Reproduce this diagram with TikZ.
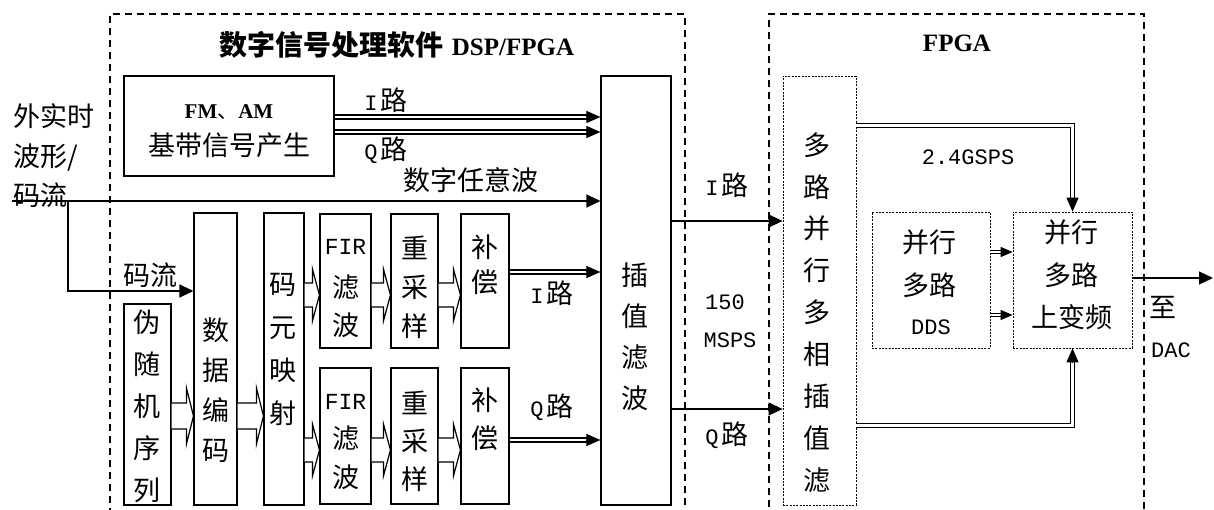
\documentclass[tikz,border=0pt]{standalone}
\usepackage{fontspec}
\setmainfont{Noto Sans CJK SC}
\newfontfamily\mono{Liberation Mono}
\newfontfamily\serifb{Liberation Serif}
\usetikzlibrary{arrows.meta,calc}
\tikzset{
  blk/.style={draw, line width=1.1pt, inner sep=0pt},
  fdash/.style={draw, line width=0.8pt, dash pattern=on 2pt off 1.3pt, inner sep=0pt},
  outerbox/.style={draw, line width=1.1pt, dash pattern=on 7pt off 5pt, inner sep=0pt},
  vt/.style={align=center, inner sep=0pt, font=\fontsize{27}{42}\selectfont},
  lbl/.style={inner sep=0pt, font=\fontsize{27}{32}\selectfont},
  mlbl/.style={inner sep=0pt, font=\fontsize{22}{26}\selectfont\mono},
  arr/.style={line width=1.1pt, -{Triangle[length=14pt,width=13pt]}},
  tip/.style={line width=1pt, -{Triangle[length=14pt,width=12pt]}},
  smalltip/.style={line width=1pt, -{Triangle[length=12pt,width=10pt]}},
  dbl/.style={draw, line width=2.2pt, double=white, double distance=1.6pt},
  fdbl/.style={draw, line width=0.9pt, double=white, double distance=3pt},
  sdbl/.style={draw, line width=1.3pt, double=white, double distance=1.5pt},
  hol/.style={draw, line width=1.2pt, fill=white, line join=miter},
}
\newcommand\hollow[4]{%
  \path (#1.east |- 0,#3) coordinate (hs) (#2.west |- 0,#3) coordinate (he);
  \draw[hol] ($(hs)+(0,-#4)$) -- ($(he)+(-7,-#4)$) -- ($(he)+(-7,-2*#4-2)$) -- (he)
    -- ($(he)+(-7,2*#4+2)$) -- ($(he)+(-7,#4)$) -- ($(hs)+(0,#4)$);}
\newcommand\dblarrow[3]{%
  \path (#1.east |- 0,#3) coordinate (ds) (#2.west |- 0,#3) coordinate (de2);
  \draw[dbl] (ds) -- ($(de2)+(-13,0)$);
  \draw[tip] ($(de2)+(-14,0)$) -- (de2);}
\begin{document}
\begin{tikzpicture}[x=1pt,y=-1pt]
\useasboundingbox (0,0) rectangle (1214,510);
% outer dashed regions
\node[outerbox, minimum width=575pt, minimum height=516pt] (dsp) at (397.5,272) {};
\node[outerbox, minimum width=375pt, minimum height=516pt] (fpga) at (956.5,272) {};
\node[inner sep=0pt, font=\fontsize{28}{30}\selectfont\bfseries] (tdsp) at (397,45)
  {数字信号处理软件\hspace{8pt}{\serifb\fontsize{25}{27}\selectfont\bfseries DSP/FPGA}};
\node[inner sep=0pt, font=\fontsize{25}{27}\selectfont\serifb\bfseries] (tfpga) at (957,43) {FPGA};

% boxes
\node[blk, minimum width=210pt, minimum height=100pt] (fm) at (229,126) {};
\node[inner sep=0pt, font=\fontsize{21}{24}\selectfont] (tfm1) at (229,112) {{\serifb\bfseries FM}、{\serifb\bfseries AM}};
\node[lbl] (tfm2) at (229,145) {基带信号产生};

\node[blk, minimum width=47pt, minimum height=201pt] (pn) at (147.5,404.5) {};
\node[vt] (tpn) at (147,406) {伪\\随\\机\\序\\列};
\node[blk, minimum width=43pt, minimum height=292pt] (de) at (215.5,359) {};
\node[vt, font=\fontsize{27}{40}\selectfont] (tde) at (215.5,390) {数\\据\\编\\码};
\node[blk, minimum width=40pt, minimum height=292pt] (cm) at (284,359) {};
\node[vt, font=\fontsize{27}{43}\selectfont] (tcm) at (283,349.5) {码\\元\\映\\射};

\node[blk, minimum width=51pt, minimum height=134pt] (fir1) at (345.5,281) {};
\node[blk, minimum width=47pt, minimum height=134pt] (rs1) at (414.5,281) {};
\node[blk, minimum width=48pt, minimum height=134pt] (cp1) at (485,281) {};
\node[blk, minimum width=51pt, minimum height=136pt] (fir2) at (345.5,436) {};
\node[blk, minimum width=47pt, minimum height=136pt] (rs2) at (414.5,436) {};
\node[blk, minimum width=48pt, minimum height=136pt] (cp2) at (485,436) {};

\node[mlbl, font=\fontsize{23}{26}\selectfont\mono] (tfir1a) at (345.5,247) {FIR};
\node[vt, font=\fontsize{27}{38}\selectfont] (tfir1b) at (345.5,306.5) {滤\\波};
\node[vt, font=\fontsize{27}{39}\selectfont] (trs1) at (414.5,287) {重\\采\\样};
\node[vt, font=\fontsize{27}{35}\selectfont] (tcp1) at (485,264.5) {补\\偿};
\node[mlbl, font=\fontsize{23}{26}\selectfont\mono] (tfir2a) at (345.5,402) {FIR};
\node[vt, font=\fontsize{27}{39}\selectfont] (tfir2b) at (345.5,457.5) {滤\\波};
\node[vt, font=\fontsize{27}{38}\selectfont] (trs2) at (414.5,441) {重\\采\\样};
\node[vt, font=\fontsize{27}{38}\selectfont] (tcp2) at (485,419) {补\\偿};

\node[blk, minimum width=70pt, minimum height=429pt] (ip) at (636,290.5) {};
\node[vt, font=\fontsize{27}{41}\selectfont] (tip) at (635,337) {插\\值\\滤\\波};

\node[fdash, minimum width=73pt, minimum height=429pt] (mp) at (819.5,290.5) {};
\node[vt, font=\fontsize{27}{41.9}\selectfont] (tmp) at (817,312.5) {多\\路\\并\\行\\多\\相\\插\\值\\滤};

\node[fdash, minimum width=118pt, minimum height=136pt] (dds) at (931,280) {};
\node[lbl] (tdds1) at (929,242) {并行};
\node[lbl] (tdds2) at (929,285) {多路};
\node[mlbl] (tdds3) at (931,327) {DDS};
\node[fdash, minimum width=119pt, minimum height=136pt] (uc) at (1072.5,280) {};
\node[lbl] (tuc1) at (1071,232) {并行};
\node[lbl] (tuc2) at (1071,275) {多路};
\node[lbl] (tuc3) at (1072,317) {上变频};

% labels
\node[lbl, anchor=west] (src1) at (13,116) {外实时};
\node[lbl, anchor=west] (src2) at (13,158) {波形/};
\node[lbl, anchor=west] (src3) at (13,195) {码流};
\node[lbl] (lcl) at (150,275) {码流};
\node[lbl] (larb) at (471,180) {数字任意波};
\node[lbl] (lI1) at (386,100) {{\mono\fontsize{22}{26}\selectfont I}\hspace{3pt}路};
\node[lbl] (lQ1) at (386,150) {{\mono\fontsize{22}{26}\selectfont Q}\hspace{3pt}路};
\node[lbl] (lI2) at (552,293) {{\mono\fontsize{22}{26}\selectfont I}\hspace{3pt}路};
\node[lbl] (lQ2) at (552,407) {{\mono\fontsize{22}{26}\selectfont Q}\hspace{3pt}路};
\node[lbl] (lI3) at (727,185) {{\mono\fontsize{22}{26}\selectfont I}\hspace{3pt}路};
\node[lbl] (lQ3) at (727,435) {{\mono\fontsize{22}{26}\selectfont Q}\hspace{3pt}路};
\node[mlbl] (l150) at (725,302) {150};
\node[mlbl] (lmsps) at (730,340) {MSPS};
\node[mlbl] (lgsps) at (968,157) {2.4GSPS};
\node[lbl] (lto) at (1163,307) {至};
\node[mlbl] (ldac) at (1171,350) {DAC};

% single arrows
\coordinate (src) at (12,201);
\coordinate (br) at (68,201);
\draw[arr] (src) -- (ip.west |- src);
\draw[arr] (br) |- (de.west |- 0,291);
\draw[arr] (ip.east |- 0,221) -- (mp.west |- 0,221);
\draw[arr] (ip.east |- 0,409) -- (mp.west |- 0,409);
\coordinate (out) at (1213,278);
\draw[arr] (uc.east |- out) -- (out);

% double dark arrows
\dblarrow{fm}{ip}{117}
\dblarrow{fm}{ip}{132}
\dblarrow{cp1}{ip}{272}
\dblarrow{cp2}{ip}{440}

% hollow block arrows
\hollow{pn}{de}{416}{13}
\hollow{de}{cm}{416}{13}
\hollow{cm}{fir1}{295}{12}
\hollow{fir1}{rs1}{295}{12}
\hollow{rs1}{cp1}{295}{12}
\hollow{cm}{fir2}{450}{12}
\hollow{fir2}{rs2}{450}{12}
\hollow{rs2}{cp2}{450}{12}

% FPGA double lines
\draw[fdbl] (mp.east |- 0,125.5) -- (uc.north |- 0,125.5) -- ($(uc.north)+(0,-12)$);
\draw[tip] ($(uc.north)+(0,-14)$) -- (uc.north);
\draw[fdbl] (mp.east |- 0,425.5) -- (uc.south |- 0,425.5) -- ($(uc.south)+(0,12)$);
\draw[tip] ($(uc.south)+(0,14)$) -- (uc.south);
\draw[sdbl] (dds.east |- 0,252) -- ($(uc.west |- 0,252)+(-11,0)$);
\draw[smalltip] ($(uc.west |- 0,252)+(-12,0)$) -- (uc.west |- 0,252);
\draw[sdbl] (dds.east |- 0,315) -- ($(uc.west |- 0,315)+(-11,0)$);
\draw[smalltip] ($(uc.west |- 0,315)+(-12,0)$) -- (uc.west |- 0,315);
\end{tikzpicture}
\end{document}
